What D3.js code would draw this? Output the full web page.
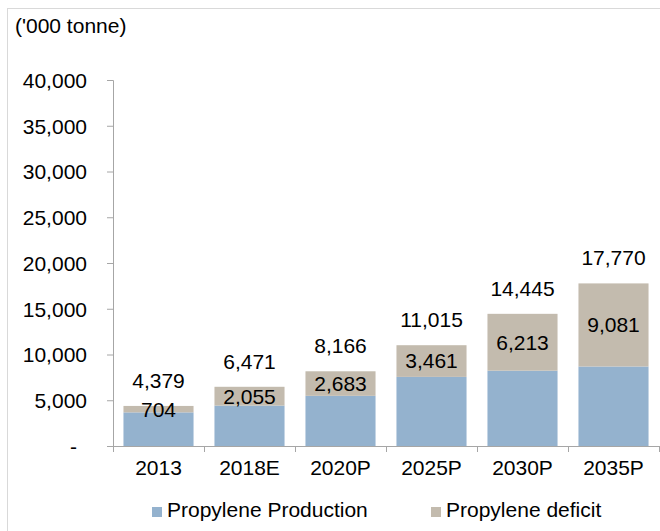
<!DOCTYPE html>
<html>
<head>
<meta charset="utf-8">
<script src="https://cdn.jsdelivr.net/npm/d3@7"></script>
<style>
  body { margin: 0; background: #fff; }
  text { font-family: "Liberation Sans", Arial, sans-serif; fill: #000; }
</style>
</head>
<body>
<div id="chart"></div>
<script>
// data
var categories = ["2013", "2018E", "2020P", "2025P", "2030P", "2035P"];
var totals = [4379, 6471, 8166, 11015, 14445, 17770];
var deficit = [704, 2055, 2683, 3461, 6213, 9081];
var production = [3675, 4416, 5483, 7554, 8232, 8689];
var yTicks = [0, 5000, 10000, 15000, 20000, 25000, 30000, 35000, 40000];
var seriesNames = ["Propylene Production", "Propylene deficit"];
var colors = ["#94B2CE", "#C3BBAE"];

var width = 660, height = 531;
var margin = {top: 80, right: 1, bottom: 85, left: 113};
var plotW = width - margin.left - margin.right,
    plotH = height - margin.top - margin.bottom;
var fontSize = "21px";

var svg = d3.select("#chart").append("svg")
    .attr("width", width)
    .attr("height", height);

// outer frame
svg.append("rect")
    .attr("x", 7.5).attr("y", 8.5)
    .attr("width", width + 10).attr("height", height + 10)
    .attr("fill", "none")
    .attr("stroke", "#d9d9d9");

var g = svg.append("g")
    .attr("transform", "translate(" + margin.left + "," + margin.top + ")");

var x = d3.scaleBand().domain(categories).range([0, plotW]).paddingInner(0.23).paddingOuter(0.115);
var xTick = d3.scaleBand().domain(categories).range([0, plotW]);
var y = d3.scaleLinear().domain([0, 40000]).range([plotH, 0]);

// stacked rows
var rows = categories.map(function(c, i) {
    return {cat: c, production: production[i], deficit: deficit[i], total: totals[i]};
});
var stack = d3.stack().keys(["production", "deficit"]);
var layers = stack(rows);

g.selectAll(".layer")
    .data(layers)
    .enter().append("g")
    .attr("fill", function(d, i) { return colors[i]; })
    .selectAll("rect")
    .data(function(d) { return d; })
    .enter().append("rect")
    .attr("x", function(d) { return x(d.data.cat); })
    .attr("width", x.bandwidth())
    .attr("y", function(d) { return y(d[1]); })
    .attr("height", function(d) { return y(d[0]) - y(d[1]); });

// y axis
var yAxis = g.append("g")
    .call(d3.axisLeft(y).tickValues(yTicks).tickSize(6).tickPadding(20)
        .tickFormat(function(d) { return d === 0 ? "-" : d3.format(",")(d); }));
yAxis.selectAll("text").style("font-size", fontSize).style("font-family", null).attr("dy", "0.35em");
yAxis.attr("font-family", null);
yAxis.select(".domain").attr("stroke", "#a6a6a6");
yAxis.selectAll(".tick line").attr("stroke", "#a6a6a6");
yAxis.selectAll(".tick").filter(function(d) { return d === 0; }).select("text").attr("x", -36);

// x axis
var xAxisG = g.append("g")
    .attr("transform", "translate(0," + plotH + ")");
xAxisG.append("line")
    .attr("x1", 0).attr("x2", plotW)
    .attr("y1", 0.5).attr("y2", 0.5)
    .attr("stroke", "#a6a6a6");
xAxisG.selectAll(".xtick")
    .data(categories.concat(["end"]))
    .enter().append("line")
    .attr("x1", function(d, i) { return Math.round(i * xTick.bandwidth()) + 0.5; })
    .attr("x2", function(d, i) { return Math.round(i * xTick.bandwidth()) + 0.5; })
    .attr("y1", 0).attr("y2", 6)
    .attr("stroke", "#a6a6a6");
xAxisG.selectAll(".xlabel")
    .data(categories)
    .enter().append("text")
    .attr("x", function(d) { return xTick(d) + xTick.bandwidth() / 2; })
    .attr("y", 29)
    .attr("text-anchor", "middle")
    .style("font-size", fontSize)
    .text(function(d) { return d; });

// deficit labels, centred on the deficit segment
g.selectAll(".deflabel")
    .data(rows)
    .enter().append("text")
    .attr("x", function(d) { return x(d.cat) + x.bandwidth() / 2; })
    .attr("y", function(d) { return y(d.production + d.deficit / 2); })
    .attr("dy", "0.35em")
    .attr("text-anchor", "middle")
    .style("font-size", fontSize)
    .text(function(d) { return d3.format(",")(d.deficit); });

// total labels above bars
g.selectAll(".totlabel")
    .data(rows)
    .enter().append("text")
    .attr("x", function(d) { return x(d.cat) + x.bandwidth() / 2; })
    .attr("y", function(d) { return y(d.total) - 18; })
    .attr("text-anchor", "middle")
    .style("font-size", fontSize)
    .text(function(d) { return d3.format(",")(d.total); });

// unit label
svg.append("text")
    .attr("x", 15).attr("y", 33)
    .style("font-size", fontSize)
    .text("('000 tonne)");

// legend
var legendPos = [152, 431];
var legend = svg.selectAll(".legend")
    .data(seriesNames)
    .enter().append("g")
    .attr("transform", function(d, i) { return "translate(" + legendPos[i] + ",507)"; });
legend.append("rect")
    .attr("width", 10).attr("height", 10)
    .attr("fill", function(d, i) { return colors[i]; });
legend.append("text")
    .attr("x", 15).attr("y", 10)
    .style("font-size", fontSize)
    .text(function(d) { return d; });
</script>
</body>
</html>
